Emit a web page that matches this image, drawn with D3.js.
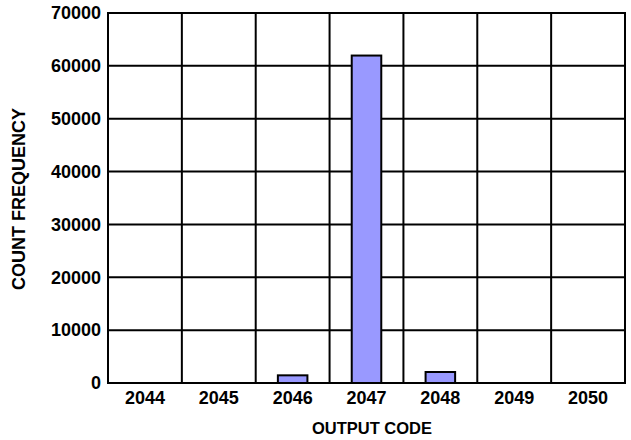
<!DOCTYPE html>
<html><head><meta charset="utf-8">
<script src="https://cdn.jsdelivr.net/npm/d3@7"></script>
<style>body{margin:0;background:#fff}svg{display:block}text{font-family:"Liberation Sans",Arial,sans-serif;font-weight:bold;fill:#000}</style>
</head><body>
<script>
const codes = ["2044","2045","2046","2047","2048","2049","2050"];
const counts = [0, 0, 1450, 61950, 2080, 0, 0];
const yTicks = [0,10000,20000,30000,40000,50000,60000,70000];

const W=631,H=440, L=108, R=625, T=13, B=383;
const svg=d3.select("body").append("svg").attr("width",W).attr("height",H);
const x=d3.scaleBand().domain(codes).range([L,R]).paddingInner(0.6).paddingOuter(0.3);
const grid=d3.scaleBand().domain(codes).range([L,R]).padding(0);
const y=d3.scaleLinear().domain([0,70000]).range([B,T]);

svg.append("g").selectAll("line").data(yTicks).join("line")
  .attr("x1",L).attr("x2",R).attr("y1",d=>y(d)).attr("y2",d=>y(d))
  .attr("stroke","#000").attr("stroke-width",2);
svg.append("g").selectAll("line").data(codes.slice(1)).join("line")
  .attr("x1",d=>grid(d)).attr("x2",d=>grid(d)).attr("y1",T).attr("y2",B)
  .attr("stroke","#000").attr("stroke-width",2);
svg.append("rect").attr("x",L).attr("y",T).attr("width",R-L).attr("height",B-T)
  .attr("fill","none").attr("stroke","#000").attr("stroke-width",2);
svg.append("g").selectAll("rect").data(codes.map((c,i)=>({c,v:counts[i]})).filter(d=>d.v>0)).join("rect")
  .attr("x",d=>x(d.c)).attr("width",x.bandwidth())
  .attr("y",d=>y(d.v)).attr("height",d=>B-y(d.v))
  .attr("fill","#9999ff").attr("stroke","#000").attr("stroke-width",2);

const ya=d3.axisLeft(y).tickValues(yTicks).tickSize(0).tickPadding(7).tickFormat(d3.format("d"));
const gy=svg.append("g").attr("transform",`translate(${L},0)`).call(ya);
gy.select(".domain").remove();
gy.selectAll("text").style("font-size","18px").style("font-family","Liberation Sans, Arial, sans-serif").style("font-weight","bold").attr("fill","#000");
const xa=d3.axisBottom(grid).tickSize(0).tickPadding(8);
const gx=svg.append("g").attr("transform",`translate(0,${B})`).call(xa);
gx.select(".domain").remove();
gx.selectAll("text").style("font-size","18px").style("font-family","Liberation Sans, Arial, sans-serif").style("font-weight","bold").attr("fill","#000");

svg.append("text").attr("x",372).attr("y",434).attr("text-anchor","middle")
  .style("font-size","16.5px").text("OUTPUT CODE");
svg.append("text").attr("transform",`translate(25,${(T+B)/2+1}) rotate(-90)`).attr("text-anchor","middle")
  .style("font-size","18px").text("COUNT FREQUENCY");
</script>
</body></html>
